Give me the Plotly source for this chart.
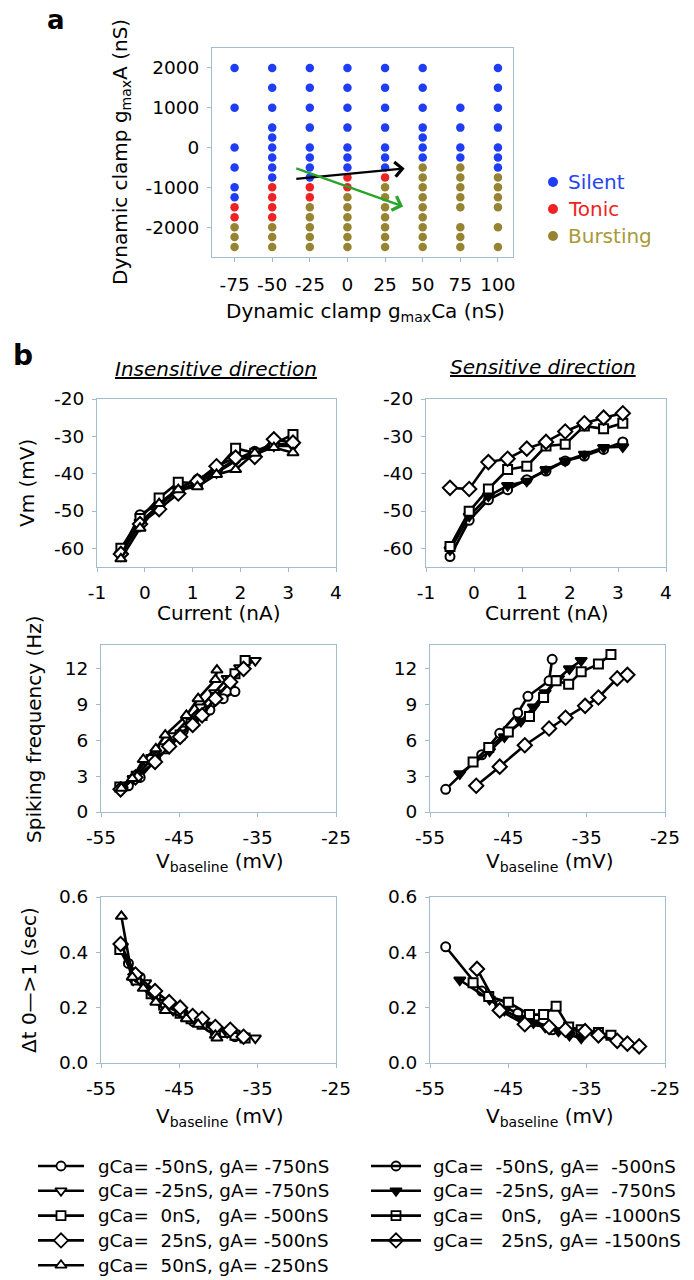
import plotly.graph_objects as go

FONT = "DejaVu Sans"
PAGE_W, PAGE_H = 694, 1280
OFF = 8                      # the page body offsets the figure by 8 px
W, H = PAGE_W - OFF, PAGE_H - OFF
AX_COLOR = "#a3bccb"

# ---------------- Panel a data ----------------
gca_columns = [-75, -50, -25, 0, 25, 50, 75, 100]
silent_ga = [
    [2000, 1000, 0, -500, -1000, -1250],
    [2000, 1500, 1000, 500, 250, 0, -250, -500, -750],
    [2000, 1500, 1000, 500, 0, -250, -500, -750],
    [2000, 1500, 1000, 500, 0, -250, -500],
    [2000, 1500, 1000, 500, 0, -250, -500],
    [2000, 1500, 1000, 500, 250, 0, -250],
    [1000, 500, 0, -250],
    [2000, 1500, 1000, 500, 0, -250, -500],
]
tonic_ga = [
    [-1500, -1750],
    [-1000, -1250, -1500, -1750],
    [-1000, -1250],
    [-750, -1000],
    [-750],
    [],
    [],
    [],
]
bursting_ga = [
    [-2000, -2250, -2500],
    [-2000, -2250, -2500],
    [-1500, -1750, -2000, -2250, -2500],
    [-1250, -1500, -1750, -2000, -2250, -2500],
    [-1000, -1250, -1500, -1750, -2000, -2250, -2500],
    [-500, -750, -1000, -1250, -1500, -1750, -2000, -2250, -2500],
    [-500, -750, -1000, -1250, -1500, -2000, -2250, -2500],
    [-750, -1000, -1250, -1500, -2000, -2500],
]
state_labels = ["Silent", "Tonic", "Bursting"]
state_colors = ["#1f3df5", "#ee2222", "#978432"]
state_text_colors = ["#2545f0", "#ee2222", "#a89a36"]
insensitive_arrow_gca = [-35, 38]
insensitive_arrow_ga = [-790, -525]
sensitive_arrow_gca = [-35, 37]
sensitive_arrow_ga = [-510, -1480]
a_xticks = [-75, -50, -25, 0, 25, 50, 75, 100]
a_yticks = [-2000, -1000, 0, 1000, 2000]

# ---------------- Panel b data ----------------
current_nA = [-0.5, -0.1, 0.3, 0.7, 1.1, 1.5, 1.9, 2.3, 2.7, 3.1]

# Insensitive direction: Vm vs current
ins_vm_circle = [-61, -51, -48, -44, -41.5, -39.3, -36.2, -34, -32.1, -32.1]
ins_vm_tridown = [-61.5, -53, -48.5, -44.5, -42.5, -39.8, -36.6, -35, -32.6, -32.6]
ins_vm_square = [-60, -52, -46.5, -42.3, -42.5, -39, -33.2, -34.5, -32, -29.5]
ins_vm_diamond = [-61.5, -53.5, -49.5, -45.3, -42, -38, -35.7, -35.5, -30.8, -31.7]
ins_vm_triup = [-62.8, -54.6, -48, -44.3, -43.5, -40.2, -38.9, -34.5, -33, -34.4]

# Sensitive direction: Vm vs current
sen_vm_circle = [-62.2, -52.5, -47, -44.3, -41.6, -39.3, -36.6, -35.3, -33.5, -31.5]
sen_vm_tridown = [-60.4, -51.4, -46, -43.2, -42, -38.9, -36.6, -34.8, -33, -32.8]
sen_vm_square = [-59.5, -50.1, -44.1, -38.9, -38, -32.6, -32.1, -27.2, -28, -26.5]
sen_vm_diamond = [-43.8, -44.1, -36.9, -36, -33.3, -31.5, -28.7, -26.5, -25, -23.8]

# Insensitive direction: baseline voltage, spiking frequency, delta t
ins_vb_circle = [-51.5, -50.0, -48.0, -46.2, -44.5, -43.2, -41.1, -39.4, -37.9]
ins_f_circle = [2.2, 2.9, 4.4, 5.6, 6.8, 7.6, 8.55, 9.5, 10.1]
ins_dt_circle = [0.36, 0.31, 0.24, 0.20, 0.18, 0.15, 0.13, 0.11, 0.095]

ins_vb_tridown = [-52.3, -50.9, -49.3, -47.5, -45.8, -44.0, -42.3, -40.5, -38.9, -37.3, -35.3]
ins_f_tridown = [1.9, 2.8, 4.3, 5.3, 6.4, 7.7, 8.8, 10.0, 11.2, 12.1, 12.7]
ins_dt_tridown = [0.42, 0.30, 0.29, 0.22, 0.19, 0.17, 0.15, 0.13, 0.11, 0.10, 0.09]

ins_vb_square = [-52.6, -50.5, -48.6, -47.0, -44.9, -43.5, -42.1, -40.4, -38.5, -37.9, -36.6]
ins_f_square = [2.1, 3.0, 4.4, 5.3, 6.45, 7.4, 8.1, 9.6, 10.9, 11.6, 12.7]
ins_dt_square = [0.41, 0.30, 0.25, 0.21, 0.18, 0.16, 0.14, 0.12, 0.11, 0.10, 0.09]

ins_vb_diamond = [-52.5, -50.6, -48.1, -46.3, -44.9, -43.3, -42.1, -40.4, -38.5, -36.8]
ins_f_diamond = [1.9, 2.9, 4.2, 5.5, 6.3, 7.3, 8.1, 9.5, 10.9, 12.0]
ins_dt_diamond = [0.43, 0.32, 0.26, 0.22, 0.20, 0.17, 0.16, 0.13, 0.12, 0.095]

ins_vb_triup = [-52.4, -51.0, -49.6, -48.0, -46.8, -44.1, -42.6, -40.4, -40.2]
ins_f_triup = [2.0, 2.8, 4.4, 5.3, 6.45, 8.1, 9.5, 11.1, 11.9]
ins_dt_triup = [0.53, 0.31, 0.27, 0.22, 0.19, 0.16, 0.14, 0.10, 0.09]

# Sensitive direction: baseline voltage, spiking frequency, delta t
sen_vb_circle = [-53.0, -48.4, -46.1, -43.8, -42.5, -39.8, -39.4]
sen_f_circle = [1.9, 4.8, 6.6, 8.3, 9.7, 11.0, 12.8]
sen_dt_circle = [0.42, 0.26, 0.21, 0.18, 0.16, 0.13, 0.12]

sen_vb_tridown = [-51.2, -47.4, -45.5, -43.4, -41.8, -40.3, -38.6, -37.2, -35.7]
sen_f_tridown = [3.2, 5.1, 6.3, 7.6, 8.8, 10.0, 11.2, 12.0, 12.7]
sen_dt_tridown = [0.30, 0.23, 0.19, 0.16, 0.145, 0.13, 0.115, 0.10, 0.09]

sen_vb_square = [-49.5, -47.5, -45.0, -42.3, -40.5, -38.9, -37.3, -35.7, -33.5, -31.9]
sen_f_square = [4.2, 5.4, 6.7, 8.0, 9.6, 11.0, 10.7, 11.75, 12.4, 13.2]
sen_dt_square = [0.29, 0.24, 0.22, 0.175, 0.175, 0.205, 0.13, 0.12, 0.11, 0.10]

sen_vb_diamond = [-49.1, -46.1, -42.9, -39.8, -37.7, -35.2, -33.5, -31.1, -29.8]
sen_f_diamond = [2.2, 3.8, 5.6, 7.0, 7.9, 8.9, 9.6, 11.2, 11.5]
sen_vb_diamond_dt = [-49.0, -46.1, -42.9, -39.8, -37.7, -35.2, -33.5, -31.1, -29.8, -28.3]
sen_dt_diamond = [0.34, 0.19, 0.14, 0.13, 0.12, 0.115, 0.10, 0.08, 0.07, 0.06]

ins_symbols = ["circle", "triangle-down", "square", "diamond", "triangle-up"]
ins_filled = [False, False, False, False, False]
sen_symbols = ["circle", "triangle-down", "square", "diamond"]
sen_filled = [False, True, False, False]

ins_labels = [
    "gCa= -50nS, gA= -750nS",
    "gCa= -25nS, gA= -750nS",
    "gCa=  0nS,   gA= -500nS",
    "gCa=  25nS, gA= -500nS",
    "gCa=  50nS, gA= -250nS",
]
sen_labels = [
    "gCa=  -50nS, gA=  -500nS",
    "gCa=  -25nS, gA=  -750nS",
    "gCa=   0nS,   gA= -1000nS",
    "gCa=   25nS, gA= -1500nS",
]

vm_xticks = [-1, 0, 1, 2, 3, 4]
vm_yticks = [-60, -50, -40, -30, -20]
vb_xticks = [-55, -45, -35, -25]
f_yticks = [0, 3, 6, 9, 12]
dt_yticks = [0.0, 0.2, 0.4, 0.6]

SYM_SIZE = {"circle": 9, "square": 9, "diamond": 11, "triangle-down": 10, "triangle-up": 10}

fig = go.Figure()


def dom_x(l, r):
    return [(l - OFF) / W, (r - OFF) / W]


def dom_y(t, b):
    return [1 - (b - OFF) / H, 1 - (t - OFF) / H]


def series(x, y, sym, filled, xa, ya):
    fig.add_trace(go.Scatter(
        x=x, y=y, mode="lines+markers", xaxis=xa, yaxis=ya, showlegend=False,
        line=dict(color="black", width=2.6),
        marker=dict(symbol=sym, size=SYM_SIZE[sym], color="black" if filled else "white",
                    line=dict(color="black", width=2)),
        cliponaxis=False,
    ))


# ---- panel a scatter
for ga_lists, color, name in zip([silent_ga, tonic_ga, bursting_ga], state_colors, state_labels):
    xs, ys = [], []
    for g, col in zip(gca_columns, ga_lists):
        xs += [g] * len(col)
        ys += col
    fig.add_trace(go.Scatter(x=xs, y=ys, mode="markers", xaxis="x", yaxis="y", name=name,
                             showlegend=False, marker=dict(size=8.5, color=color)))

# ---- panel b series
ins_vm = [ins_vm_circle, ins_vm_tridown, ins_vm_square, ins_vm_diamond, ins_vm_triup]
sen_vm = [sen_vm_circle, sen_vm_tridown, sen_vm_square, sen_vm_diamond]
ins_vb = [ins_vb_circle, ins_vb_tridown, ins_vb_square, ins_vb_diamond, ins_vb_triup]
ins_f = [ins_f_circle, ins_f_tridown, ins_f_square, ins_f_diamond, ins_f_triup]
ins_dt = [ins_dt_circle, ins_dt_tridown, ins_dt_square, ins_dt_diamond, ins_dt_triup]
sen_vb = [sen_vb_circle, sen_vb_tridown, sen_vb_square, sen_vb_diamond]
sen_f = [sen_f_circle, sen_f_tridown, sen_f_square, sen_f_diamond]
sen_vb_dt = [sen_vb_circle, sen_vb_tridown, sen_vb_square, sen_vb_diamond_dt]
sen_dt = [sen_dt_circle, sen_dt_tridown, sen_dt_square, sen_dt_diamond]

for i in range(5):
    series(current_nA, ins_vm[i], ins_symbols[i], ins_filled[i], "x2", "y2")
    series(ins_vb[i], ins_f[i], ins_symbols[i], ins_filled[i], "x4", "y4")
    series(ins_vb[i], ins_dt[i], ins_symbols[i], ins_filled[i], "x6", "y6")
for i in range(4):
    series(current_nA, sen_vm[i], sen_symbols[i], sen_filled[i], "x3", "y3")
    series(sen_vb[i], sen_f[i], sen_symbols[i], sen_filled[i], "x5", "y5")
    series(sen_vb_dt[i], sen_dt[i], sen_symbols[i], sen_filled[i], "x7", "y7")

# ---- overlay (page-pixel) axis for legends and labels
LEG_ROWS = [1166 + 24.8 * k for k in range(5)]
annotations = []


def txt(x, y, text, size=20, angle=0, xanchor="center", color="black", yanchor="middle"):
    annotations.append(dict(x=x, y=y, xref="x8", yref="y8", text=text, showarrow=False,
                            textangle=angle, xanchor=xanchor, yanchor=yanchor,
                            font=dict(family=FONT, size=size, color=color)))


# panel a legend
A_LEG_ROWS = [182, 209, 236]
for k, (lab, col, tcol) in enumerate(zip(state_labels, state_colors, state_text_colors)):
    fig.add_trace(go.Scatter(x=[553], y=[A_LEG_ROWS[k]], mode="markers", xaxis="x8", yaxis="y8",
                             showlegend=False, marker=dict(size=10, color=col)))
    txt(566, A_LEG_ROWS[k], lab, size=20, xanchor="left", color=tcol)

# panel b legend
for k, (lab, sym, fil) in enumerate(zip(ins_labels, ins_symbols, ins_filled)):
    yv = LEG_ROWS[k]
    fig.add_trace(go.Scatter(x=[38, 84], y=[yv, yv], mode="lines", xaxis="x8", yaxis="y8",
                             showlegend=False, line=dict(color="black", width=2.6)))
    fig.add_trace(go.Scatter(x=[61], y=[yv], mode="markers", xaxis="x8", yaxis="y8", showlegend=False,
                             marker=dict(symbol=sym, size=SYM_SIZE[sym],
                                         color="black" if fil else "white",
                                         line=dict(color="black", width=1.8))))
    txt(96, yv, lab.replace("  ", "\u00a0\u00a0"), size=18.3, xanchor="left")
for k, (lab, sym, fil) in enumerate(zip(sen_labels, sen_symbols, sen_filled)):
    yv = LEG_ROWS[k]
    fig.add_trace(go.Scatter(x=[396], y=[yv], mode="markers", xaxis="x8", yaxis="y8", showlegend=False,
                             marker=dict(symbol=sym, size=SYM_SIZE[sym],
                                         color="black" if fil else "white",
                                         line=dict(color="black", width=1.8))))
    fig.add_trace(go.Scatter(x=[371, 421], y=[yv, yv], mode="lines", xaxis="x8", yaxis="y8",
                             showlegend=False, line=dict(color="black", width=2.6)))
    txt(431, yv, lab.replace("  ", "\u00a0\u00a0"), size=18.3, xanchor="left")

# panel texts
txt(56, 20, "<b>a</b>", size=26)
txt(23, 355, "<b>b</b>", size=28)
txt(365, 312, "Dynamic clamp g<sub>max</sub>Ca (nS)", size=20)
txt(121, 152, "Dynamic clamp g<sub>max</sub>A (nS)", size=20, angle=-90)
txt(216, 369, "<u><i>Insensitive direction</i></u>", size=20)
txt(543, 367, "<u><i>Sensitive direction</i></u>", size=20)
txt(27, 483, "Vm (mV)", size=20, angle=-90)
txt(34, 729, "Spiking frequency (Hz)", size=20, angle=-90)
txt(29, 980, "\u0394t 0\u2014>1 (sec)", size=20, angle=-90)
txt(218, 613, "Current (nA)", size=20)
txt(546, 613, "Current (nA)", size=20)
for xx in (219, 549):
    txt(xx, 862, "V<sub>baseline</sub> (mV)", size=20)
    txt(xx, 1117, "V<sub>baseline</sub> (mV)", size=20)

# arrows in panel a
for gx, gy, col in [(insensitive_arrow_gca, insensitive_arrow_ga, "black"),
                    (sensitive_arrow_gca, sensitive_arrow_ga, "#2aa52a")]:
    annotations.append(dict(x=gx[1], y=gy[1], ax=gx[0], ay=gy[0], xref="x", yref="y",
                            axref="x", ayref="y", showarrow=True, arrowhead=4, arrowsize=1.2,
                            arrowwidth=2.4, arrowcolor=col, text=""))


def axis_style(tickvals, fmt="{:g}", **kw):
    d = dict(showline=True, mirror=True, linecolor=AX_COLOR, linewidth=1, ticks="outside",
             ticklen=4, tickcolor=AX_COLOR, showgrid=False, zeroline=False, automargin=False,
             tickangle=0, tickvals=tickvals, ticktext=[fmt.format(v) for v in tickvals],
             tickfont=dict(family=FONT, size=18.5, color="black"))
    d.update(kw)
    return d


XSTAND = 5
YSTAND = 4

fig.update_layout(
    template="none",
    width=W, height=H, margin=dict(l=0, r=0, t=0, b=0, pad=0, autoexpand=False),
    paper_bgcolor="white", plot_bgcolor="rgba(0,0,0,0)", showlegend=False,
    font=dict(family=FONT, color="black"),
    xaxis=axis_style(a_xticks, domain=dom_x(212, 513), range=[-90, 110],
                     ticklabelstandoff=XSTAND + 2, anchor="y"),
    yaxis=axis_style(a_yticks, domain=dom_y(48, 257), range=[-2750, 2500],
                     ticklabelstandoff=YSTAND, anchor="x"),
    xaxis2=axis_style(vm_xticks, domain=dom_x(97, 336), range=[-1, 4],
                      ticklabelstandoff=XSTAND, anchor="y2"),
    yaxis2=axis_style(vm_yticks, domain=dom_y(399, 567), range=[-65, -20],
                      ticklabelstandoff=YSTAND, anchor="x2"),
    xaxis3=axis_style(vm_xticks, domain=dom_x(426, 666), range=[-1, 4],
                      ticklabelstandoff=XSTAND, anchor="y3"),
    yaxis3=axis_style(vm_yticks, domain=dom_y(399, 567), range=[-65, -20],
                      ticklabelstandoff=YSTAND, anchor="x3"),
    xaxis4=axis_style(vb_xticks, domain=dom_x(101, 336), range=[-55, -25],
                      ticklabelstandoff=XSTAND, anchor="y4"),
    yaxis4=axis_style(f_yticks, domain=dom_y(645, 812), range=[0, 14],
                      ticklabelstandoff=YSTAND, anchor="x4"),
    xaxis5=axis_style(vb_xticks, domain=dom_x(430, 665), range=[-55, -25],
                      ticklabelstandoff=XSTAND, anchor="y5"),
    yaxis5=axis_style(f_yticks, domain=dom_y(645, 812), range=[0, 14],
                      ticklabelstandoff=YSTAND, anchor="x5"),
    xaxis6=axis_style(vb_xticks, domain=dom_x(101, 336), range=[-55, -25],
                      ticklabelstandoff=XSTAND, anchor="y6"),
    yaxis6=axis_style(dt_yticks, fmt="{:.1f}", domain=dom_y(897, 1063), range=[0, 0.6],
                      ticklabelstandoff=YSTAND, anchor="x6"),
    xaxis7=axis_style(vb_xticks, domain=dom_x(430, 665), range=[-55, -25],
                      ticklabelstandoff=XSTAND, anchor="y7"),
    yaxis7=axis_style(dt_yticks, fmt="{:.1f}", domain=dom_y(897, 1063), range=[0, 0.6],
                      ticklabelstandoff=YSTAND, anchor="x7"),
    xaxis8=dict(domain=[0, 1], range=[OFF, PAGE_W], visible=False, anchor="y8", fixedrange=True,
                automargin=False),
    yaxis8=dict(domain=[0, 1], range=[PAGE_H, OFF], visible=False, anchor="x8", fixedrange=True,
                automargin=False),
    annotations=annotations,
)

fig.write_html("out.html")
